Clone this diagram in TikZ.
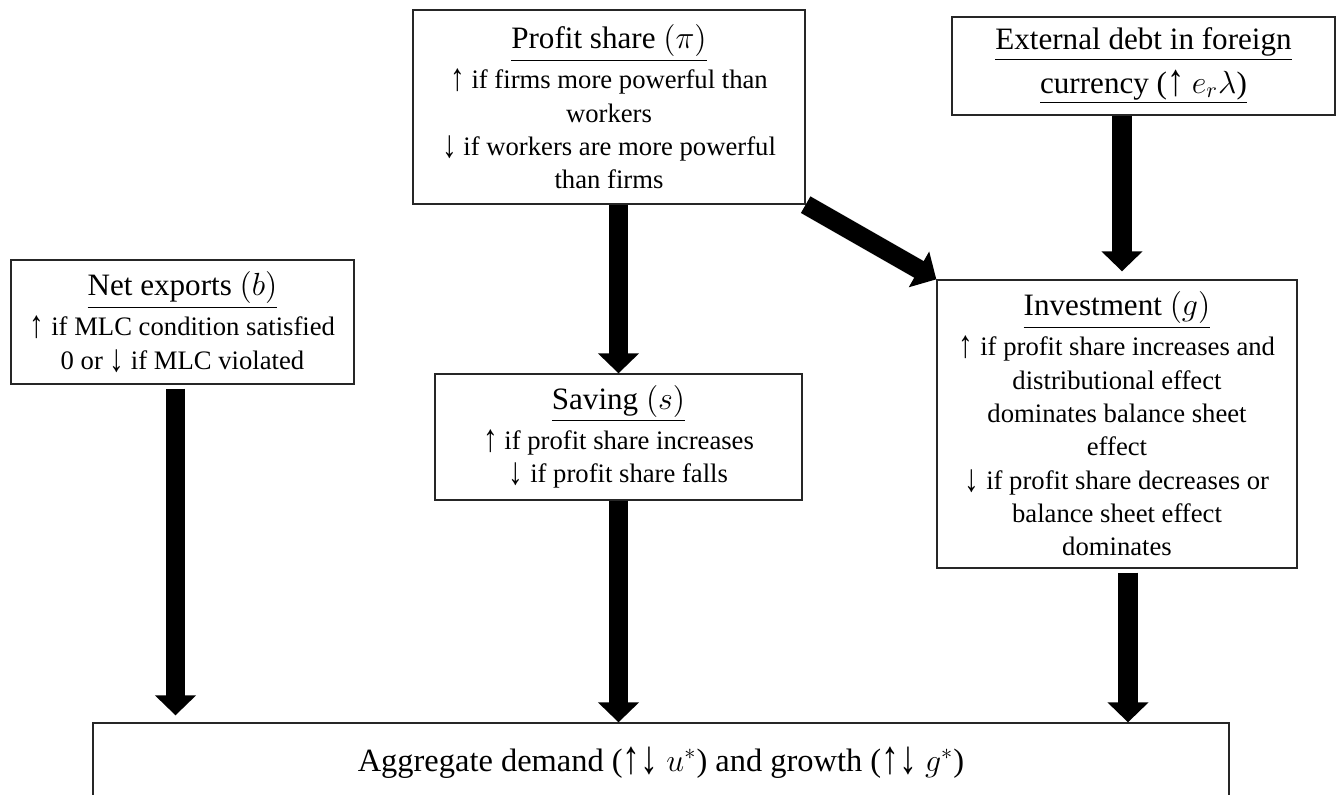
\documentclass[tikz,border=0pt]{standalone}
\usepackage{fontspec}
\setmainfont{Liberation Serif}
\usepackage{graphicx}
\usepackage{tikz}
\usetikzlibrary{positioning, arrows.meta, calc}

\tikzset{
  box/.style={draw=black!85, line width=0.6pt, align=center, inner sep=2pt, font=\fontsize{12}{15}\selectfont},
  bigarrow/.style={line width=8.6pt, -{Triangle[width=18pt,length=9pt]}},
}
\newcommand{\boxtitle}[1]{{\fontsize{14}{16}\selectfont\underline{#1}}}
\newcommand{\uparr}{\raisebox{-0.15ex}{\scalebox{1.1}[1.45]{↑}}}
\newcommand{\downarr}{\raisebox{-0.15ex}{\scalebox{1.1}[1.45]{↓}}}

\begin{document}
\begin{tikzpicture}[x=0.45pt, y=-0.45pt]
      \clip (0,0) rectangle (1338,795);

      \node[box, minimum width=176.4pt, minimum height=87.3pt] (profit) at (609,107) {\boxtitle{Profit share $(\pi)$}\\[3pt] \uparr\ if firms more powerful than\\ workers\\ \downarr\ if workers are more powerful\\ than firms};
      \node[box, minimum width=172.4pt, minimum height=44.1pt] (ext) at (1143.5,66) {\boxtitle{External debt in foreign}\\[3pt] \boxtitle{currency (\uparr\ $e_r\lambda$)}};

      \node[box, minimum width=154.4pt, minimum height=55.8pt] (net) at (182.5,322) {\boxtitle{Net exports $(b)$}\\[3pt] \uparr\ if MLC condition satisfied\\ 0 or \downarr\ if MLC violated};
      \node[box, minimum width=165.2pt, minimum height=56.7pt] (saving) at (618.5,437) {\boxtitle{Saving $(s)$}\\[3pt] \uparr\ if profit share increases\\ \downarr\ if profit share falls};
      \node[box, minimum width=162pt, minimum height=129.6pt] (inv) at (1117,424) {\boxtitle{Investment $(g)$}\\[3pt] \uparr\ if profit share increases and\\ distributional effect\\ dominates balance sheet\\ effect\\ \downarr\ if profit share decreases or\\ balance sheet effect\\ dominates};

      \node[box, minimum width=511.2pt, minimum height=36pt, font=\fontsize{14.6}{17}\selectfont] (demand) at (661,763) {Aggregate demand (\uparr\downarr\ $u^*$) and growth (\uparr\downarr\ $g^*$)};

      \draw[bigarrow] (profit.south -| saving.north) -- (saving.north);
      \draw[bigarrow] (profit.south east) -- (inv.north west);
      \draw[bigarrow] ($(ext.south -| inv.north)+(5,0)$) -- ($(inv.north)+(5,-8)$);
      \draw[bigarrow] ($(net.south)+(-7,4)$) -- ($(net.south |- demand.north)+(-7,-7)$);
      \draw[bigarrow] (saving.south) -- (saving.south |- demand.north);
      \draw[bigarrow] ($(inv.south)+(11,4)$) -- ($(inv.south |- demand.north)+(11,0)$);
\end{tikzpicture}
\end{document}
